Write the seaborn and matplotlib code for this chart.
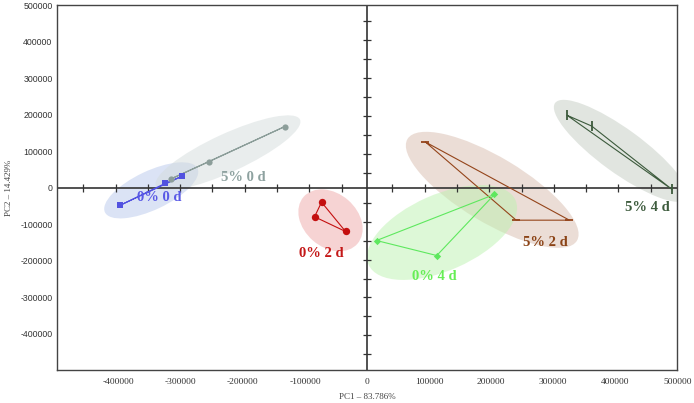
import numpy as np
import pandas as pd
import matplotlib
matplotlib.use("Agg")
import matplotlib.pyplot as plt
import seaborn as sns
from matplotlib.patches import Ellipse
from matplotlib.transforms import Affine2D

# ---------------- data ----------------
groups = ["0% 0 d", "5% 0 d", "0% 2 d", "5% 2 d", "0% 4 d", "5% 4 d"]
pc1_00 = [-397400, -325600, -297600]
pc2_00 = [-47800, 11800, 31900]
pc1_50 = [-315300, -254700, -132900]
pc2_50 = [24700, 71400, 167600]
pc1_02 = [-73300, -84500, -34600]
pc2_02 = [-39600, -79700, -120000]
pc1_52 = [94200, 240300, 326100]
pc2_52 = [125300, -89000, -89000]
pc1_04 = [15300, 112400, 205300]
pc2_04 = [-144800, -186000, -18400]
pc1_54 = [322400, 362000, 491500]
pc2_54 = [198600, 169200, -4700]
tick_values = [-400000, -300000, -200000, -100000, 0, 100000, 200000, 300000, 400000, 500000]
xlabel = "PC1 – 83.786%"
ylabel = "PC2 – 14.429%"

pc1 = [pc1_00, pc1_50, pc1_02, pc1_52, pc1_04, pc1_54]
pc2 = [pc2_00, pc2_50, pc2_02, pc2_52, pc2_04, pc2_54]
rows = []
for g, xs, ys in zip(groups, pc1, pc2):
    for x, y in zip(xs, ys):
        rows.append({"group": g, "PC1": x, "PC2": y})
df = pd.DataFrame(rows)

# ---------------- style ----------------
point_colors = {"0% 0 d": "#5252e0", "5% 0 d": "#8c9e9a", "0% 2 d": "#c40f0f",
                "5% 2 d": "#94441a", "0% 4 d": "#5ee85e", "5% 4 d": "#3c5a3c"}
label_colors = {"0% 0 d": "#5a5ae6", "5% 0 d": "#8ea2a0", "0% 2 d": "#c41818",
                "5% 2 d": "#8b4316", "0% 4 d": "#66ee55", "5% 4 d": "#3e5c3e"}
fill_colors = {"0% 0 d": "#b8c8ec", "5% 0 d": "#d4dcdc", "0% 2 d": "#eea8a8",
               "5% 2 d": "#d8bcae", "0% 4 d": "#bdf2b0", "5% 4 d": "#c4ccc2"}
markers = {"0% 0 d": "s", "5% 0 d": "o", "0% 2 d": "o",
           "5% 2 d": "_", "0% 4 d": "D", "5% 4 d": "|"}
msizes = {"0% 0 d": 22, "5% 0 d": 20, "0% 2 d": 28, "5% 2 d": 40, "0% 4 d": 14, "5% 4 d": 50}
# label anchor positions (layout, data units)
label_pos = {"0% 0 d": (-334000, -26600), "5% 0 d": (-199000, 28300),
             "0% 2 d": (-73300, -180500), "5% 2 d": (287400, -149500),
             "0% 4 d": (108700, -243700), "5% 4 d": (451700, -53600)}

sns.set_theme(style="white")
plt.rcParams['font.family'] = ['Liberation Serif', 'DejaVu Serif']

fig = plt.figure(figsize=(6.94, 4.03), dpi=100)
ax = fig.add_axes([0.0817, 0.0819, 0.8943, 0.9045])
ax.set_xlim(-500000, 500000)
ax.set_ylim(-500000, 500000)

fig.canvas.draw()
bbox = ax.get_window_extent()
ppx = bbox.width / 1000000.0
ppy = bbox.height / 1000000.0

pad_a, pad_b = 17.0, 19.0
for g in groups:
    sub = df[df.group == g]
    P = np.column_stack([sub.PC1.values * ppx, sub.PC2.values * ppy])
    m = P.mean(axis=0)
    C = np.cov((P - m).T)
    w, V = np.linalg.eigh(C)
    vmaj = V[:, 1]
    vmin = V[:, 0]
    pa = (P - m) @ vmaj
    pb = (P - m) @ vmin
    ca = (pa.max() + pa.min()) / 2
    cb = (pb.max() + pb.min()) / 2
    c = m + ca * vmaj + cb * vmin
    a = (pa.max() - pa.min()) / 2 + pad_a
    b = (pb.max() - pb.min()) / 2 + pad_b
    ang = np.degrees(np.arctan2(vmaj[1], vmaj[0]))
    e = Ellipse(c, 2 * a, 2 * b, angle=ang, facecolor=fill_colors[g], edgecolor="none",
                alpha=0.5, zorder=1,
                transform=Affine2D().scale(1 / ppx, 1 / ppy) + ax.transData)
    ax.add_patch(e)

# cross lines
ax.axhline(0, color="#333333", lw=1.2, zorder=2)
ax.axvline(0, color="#333333", lw=1.2, zorder=2)
ct = np.arange(41000, 500000, 52000)
ct = np.concatenate([-ct[::-1], ct])
ax.plot(ct, np.zeros_like(ct), ls="none", marker="|", ms=6, mew=0.9, color="#333333", zorder=2)
ax.plot(np.zeros_like(ct), ct, ls="none", marker="_", ms=6, mew=0.9, color="#333333", zorder=2)

# polygons
for g in groups:
    sub = df[df.group == g]
    xs = np.append(sub.PC1.values, sub.PC1.values[0])
    ys = np.append(sub.PC2.values, sub.PC2.values[0])
    ax.plot(xs, ys, color=point_colors[g], lw=0.8, zorder=3)

for g in groups:
    sub = df[df.group == g]
    sns.scatterplot(data=sub, x="PC1", y="PC2", ax=ax, marker=markers[g], s=msizes[g],
                    color=point_colors[g], edgecolor=point_colors[g],
                    linewidth=1.3 if markers[g] in ("_", "|") else 0, zorder=4, legend=False)

for g in groups:
    lx, ly = label_pos[g]
    ax.text(lx, ly, g, color=label_colors[g], fontsize=10.5, fontweight="bold",
            ha="center", va="center", family=['Liberation Serif'], zorder=5)

ax.set_xticks(tick_values)
ax.set_yticks(tick_values)
ax.set_xticklabels([str(v) for v in tick_values], family=['Liberation Serif'], fontsize=6.8, color="#333333")
ax.set_yticklabels([str(v) for v in tick_values], family=['Liberation Sans'], fontsize=6.3, color="#333333")
ax.tick_params(axis="both", length=0)
ax.tick_params(axis="x", pad=6)
ax.tick_params(axis="y", pad=3)
ax.set_xlabel(xlabel, fontsize=6.5, color="#444444", labelpad=5)
ax.set_ylabel(ylabel, fontsize=6.5, color="#444444", labelpad=5)
for s in ax.spines.values():
    s.set_visible(True)
    s.set_color("#444444")
    s.set_linewidth(1.0)
ax.grid(False)

fig.savefig("out.png", dpi=100)
